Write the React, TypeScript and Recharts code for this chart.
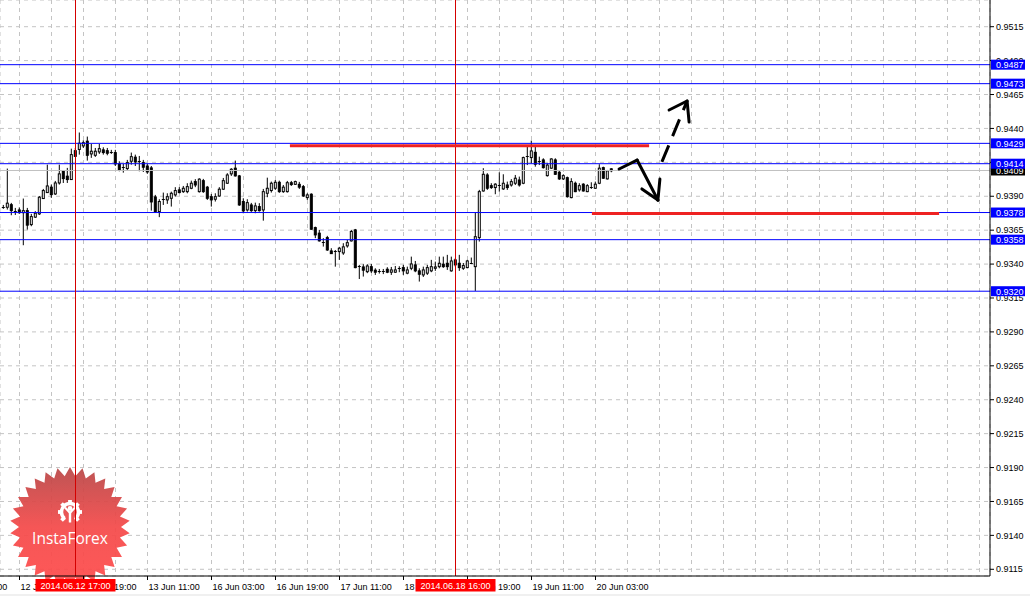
import React from 'react';
import { createPortal } from 'react-dom';
import { ComposedChart, Bar, XAxis, YAxis, CartesianGrid, ReferenceLine, Customized } from 'recharts';

// ---- data (USD/CHF H1, 11-20 Jun 2014) ----
const FIRST_BAR = -4; // bar index of the first candle (bar 0 = 12 Jun 03:00)

const opens = [
  0.93821, 0.93819, 0.93838, 0.93785, 0.93799, 0.93779, 0.93794, 0.93691, 0.93746, 0.93770,
  0.93883, 0.93927, 0.93967, 0.93917, 0.93998, 0.94084, 0.94048, 0.94023, 0.94236, 0.94245,
  0.94271, 0.94306, 0.94212, 0.94202, 0.94227, 0.94242, 0.94236, 0.94224, 0.94222, 0.94138,
  0.94116, 0.94104, 0.94158, 0.94188, 0.94163, 0.94148, 0.94123, 0.94109, 0.93895, 0.93787,
  0.93875, 0.93873, 0.93885, 0.93910, 0.93947, 0.93934, 0.93934, 0.93959, 0.94008, 0.93934,
  0.94015, 0.93967, 0.93897, 0.93878, 0.93902, 0.93952, 0.93996, 0.94065, 0.94107, 0.94050,
  0.93861, 0.93799, 0.93836, 0.93794, 0.93824, 0.93799, 0.93922, 0.93942, 0.93959, 0.94003,
  0.93934, 0.93934, 0.94000, 0.93988, 0.93988, 0.93971, 0.93890, 0.93915, 0.93669, 0.93628,
  0.93566, 0.93595, 0.93497, 0.93489, 0.93492, 0.93482, 0.93534, 0.93571, 0.93652, 0.93379,
  0.93379, 0.93344, 0.93381, 0.93355, 0.93348, 0.93346, 0.93362, 0.93340, 0.93340, 0.93367,
  0.93374, 0.93333, 0.93369, 0.93394, 0.93350, 0.93320, 0.93333, 0.93350, 0.93369, 0.93381,
  0.93399, 0.93406, 0.93350, 0.93431, 0.93406, 0.93369, 0.93374, 0.93408, 0.93381, 0.93595,
  0.93939, 0.94057, 0.93978, 0.93964, 0.93981, 0.93954, 0.93983, 0.93983, 0.93996, 0.94020,
  0.93996, 0.94190, 0.94185, 0.94224, 0.94158, 0.94168, 0.94052, 0.94107, 0.94168, 0.94077,
  0.94028, 0.94037, 0.93890, 0.93996, 0.93947, 0.93989, 0.93934, 0.93966, 0.93959, 0.93996,
  0.94111, 0.94028, 0.94102,
];
const highs = [
  0.93836, 0.94104, 0.93851, 0.93814, 0.93818, 0.93883, 0.93814, 0.93770, 0.93790, 0.93902,
  0.93954, 0.94133, 0.93986, 0.94013, 0.94133, 0.94089, 0.94109, 0.94251, 0.94256, 0.94370,
  0.94312, 0.94340, 0.94286, 0.94256, 0.94286, 0.94261, 0.94256, 0.94242, 0.94242, 0.94158,
  0.94138, 0.94168, 0.94222, 0.94207, 0.94197, 0.94168, 0.94138, 0.94123, 0.93910, 0.93878,
  0.93927, 0.93922, 0.93934, 0.93967, 0.93967, 0.93976, 0.93996, 0.94015, 0.94026, 0.94033,
  0.94028, 0.93976, 0.93917, 0.93922, 0.93967, 0.94035, 0.94070, 0.94107, 0.94163, 0.94057,
  0.93885, 0.93878, 0.93851, 0.93853, 0.93849, 0.93954, 0.94037, 0.94008, 0.94020, 0.94015,
  0.93983, 0.94013, 0.94013, 0.94015, 0.94006, 0.93983, 0.93922, 0.93922, 0.93676, 0.93652,
  0.93591, 0.93608, 0.93517, 0.93504, 0.93527, 0.93554, 0.93578, 0.93652, 0.93659, 0.93394,
  0.93399, 0.93399, 0.93401, 0.93369, 0.93364, 0.93364, 0.93377, 0.93379, 0.93386, 0.93384,
  0.93394, 0.93381, 0.93455, 0.93423, 0.93369, 0.93381, 0.93394, 0.93431, 0.93418, 0.93455,
  0.93455, 0.93468, 0.93455, 0.93443, 0.93468, 0.93408, 0.93431, 0.93448, 0.93782, 0.93947,
  0.94107, 0.94070, 0.93996, 0.93996, 0.94077, 0.94062, 0.94008, 0.94026, 0.94057, 0.94045,
  0.94192, 0.94266, 0.94310, 0.94278, 0.94192, 0.94180, 0.94143, 0.94180, 0.94180, 0.94087,
  0.94062, 0.94045, 0.94033, 0.94008, 0.93996, 0.93996, 0.93989, 0.94003, 0.94008, 0.94136,
  0.94118, 0.94094, 0.94107,
];
const lows = [
  0.93807, 0.93802, 0.93760, 0.93762, 0.93770, 0.93539, 0.93654, 0.93679, 0.93740, 0.93762,
  0.93880, 0.93925, 0.93888, 0.93910, 0.93986, 0.93998, 0.93998, 0.94020, 0.94190, 0.94207,
  0.94256, 0.94163, 0.94183, 0.94190, 0.94212, 0.94207, 0.94202, 0.94212, 0.94123, 0.94084,
  0.94074, 0.94094, 0.94133, 0.94123, 0.94084, 0.94079, 0.94065, 0.93794, 0.93777, 0.93746,
  0.93836, 0.93844, 0.93824, 0.93897, 0.93922, 0.93925, 0.93922, 0.93952, 0.93967, 0.93927,
  0.93925, 0.93873, 0.93824, 0.93861, 0.93897, 0.93947, 0.93991, 0.94050, 0.94045, 0.93829,
  0.93775, 0.93787, 0.93785, 0.93775, 0.93787, 0.93720, 0.93893, 0.93927, 0.93947, 0.93925,
  0.93925, 0.93927, 0.93976, 0.93983, 0.93954, 0.93895, 0.93873, 0.93652, 0.93591, 0.93566,
  0.93529, 0.93497, 0.93475, 0.93381, 0.93431, 0.93468, 0.93521, 0.93566, 0.93369, 0.93290,
  0.93308, 0.93333, 0.93335, 0.93320, 0.93330, 0.93326, 0.93333, 0.93320, 0.93335, 0.93340,
  0.93320, 0.93325, 0.93355, 0.93340, 0.93271, 0.93305, 0.93320, 0.93340, 0.93350, 0.93369,
  0.93372, 0.93357, 0.93344, 0.93381, 0.93350, 0.93357, 0.93369, 0.93399, 0.93202, 0.93566,
  0.93934, 0.93947, 0.93954, 0.93915, 0.93934, 0.93947, 0.93947, 0.93971, 0.93983, 0.93971,
  0.93989, 0.94130, 0.94143, 0.94118, 0.94130, 0.94104, 0.94045, 0.94102, 0.94057, 0.94020,
  0.94020, 0.93890, 0.93885, 0.93930, 0.93934, 0.93934, 0.93930, 0.93954, 0.93954, 0.93989,
  0.94028, 0.94023, 0.94077,
];
const closes = [
  0.93824, 0.93849, 0.93794, 0.93792, 0.93779, 0.93794, 0.93687, 0.93750, 0.93775, 0.93893,
  0.93942, 0.93976, 0.93912, 0.93998, 0.94065, 0.94030, 0.94023, 0.94207, 0.94194, 0.94291,
  0.94295, 0.94202, 0.94232, 0.94232, 0.94251, 0.94222, 0.94217, 0.94227, 0.94138, 0.94094,
  0.94112, 0.94148, 0.94192, 0.94153, 0.94158, 0.94114, 0.94079, 0.93858, 0.93787, 0.93861,
  0.93880, 0.93897, 0.93922, 0.93942, 0.93927, 0.93959, 0.93971, 0.93996, 0.93983, 0.94026,
  0.93934, 0.93885, 0.93873, 0.93897, 0.93952, 0.94015, 0.94057, 0.94099, 0.94050, 0.93836,
  0.93792, 0.93853, 0.93794, 0.93829, 0.93794, 0.93934, 0.93959, 0.93996, 0.94003, 0.93934,
  0.93967, 0.94000, 0.93986, 0.94008, 0.93967, 0.93902, 0.93910, 0.93657, 0.93615, 0.93571,
  0.93561, 0.93504, 0.93477, 0.93494, 0.93517, 0.93527, 0.93558, 0.93640, 0.93374, 0.93383,
  0.93355, 0.93386, 0.93350, 0.93340, 0.93352, 0.93342, 0.93340, 0.93357, 0.93357, 0.93371,
  0.93350, 0.93357, 0.93401, 0.93350, 0.93325, 0.93357, 0.93374, 0.93381, 0.93379, 0.93406,
  0.93381, 0.93381, 0.93423, 0.93394, 0.93374, 0.93389, 0.93423, 0.93404, 0.93602, 0.93934,
  0.94062, 0.93959, 0.93964, 0.93989, 0.93976, 0.93996, 0.93964, 0.94008, 0.94033, 0.93983,
  0.94185, 0.94194, 0.94234, 0.94136, 0.94161, 0.94111, 0.94130, 0.94175, 0.94062, 0.94028,
  0.94052, 0.93897, 0.94008, 0.93934, 0.93978, 0.93939, 0.93978, 0.93962, 0.93989, 0.94107,
  0.94033, 0.94087, 0.94088,
];

const priceTicks = [
  0.9115, 0.914, 0.9165, 0.919, 0.9215, 0.924, 0.9265, 0.929, 0.9315,
  0.934, 0.9365, 0.939, 0.9415, 0.944, 0.9465, 0.949, 0.9515,
];
const timeGridBars = [
  -16, -8, 0, 8, 16, 24, 32, 40, 48, 56, 64, 72, 80, 88, 96, 104, 112, 120, 128, 136,
  144, 152, 160, 168, 176, 184, 192, 200, 208, 216, 224, 232, 240,
];
const timeLabelBars = [-16, 0, 16, 32, 48, 64, 80, 96, 112, 128, 144];
const timeLabels = [
  '11 Jun 11:00', '12 Jun 03:00', '12 Jun 19:00', '13 Jun 11:00', '16 Jun 03:00',
  '16 Jun 19:00', '17 Jun 11:00', '18 Jun 03:00', '18 Jun 19:00', '19 Jun 11:00', '20 Jun 03:00',
];

const levelPrices = [0.9487, 0.9473, 0.9429, 0.9414, 0.9378, 0.9358, 0.932];
const bidPrice = 0.9409;
const crossBars = [14, 109];
const crossLabels = ['2014.06.12 17:00', '2014.06.18 16:00'];

// red zone lines: fromBar, toBar, price
const zoneFrom = [67.6, 143.1];
const zoneTo = [157.4, 229.9];
const zonePrice = [0.94272, 0.93773];

// hand-drawn forecast arrows, as [bar, price] points
const arrowDown = [[149.9, 0.94101], [154.4, 0.94167], [159.6, 0.93872]];
const arrowDownHead = [[155.6, 0.93954], [159.6, 0.93872], [160.1, 0.94027]];
const arrowUp = [[160.6, 0.94153], [166.9, 0.94602]];
const arrowUpHead = [[162.4, 0.94536], [166.9, 0.94602], [167.4, 0.94447]];

const X_DOMAIN = [-4.875, 242.625];
const Y_DOMAIN = [0.911005, 0.953468];

const rows = opens.map((o, k) => ({
  i: FIRST_BAR + k,
  o,
  h: highs[k],
  l: lows[k],
  c: closes[k],
}));

const FONT = "'Liberation Sans', Arial, sans-serif";
const BLUE = '#0000ff';
const RED = '#ee2222';

const OverlayCtx = React.createContext<any>(null);

function Candle(props: any) {
  const { x, y, width, height, payload } = props;
  if (!payload || x == null || y == null) return null;
  const top = Math.min(y, y + height);
  const bottom = Math.max(y, y + height);
  const { o, h, l, c } = payload;
  const k = (bottom - top) / (h - l);
  const cx = x + width / 2;
  const yo = top + (h - o) * k;
  const yc = top + (h - c) * k;
  const bTop = Math.min(yo, yc);
  const bBot = Math.max(yo, yc);
  const up = c >= o;
  return (
    <g>
      <line x1={cx} x2={cx} y1={top} y2={bottom} stroke="#000" strokeWidth={1} />
      {bBot - bTop < 1.2 ? (
        <line x1={cx - 1.5} x2={cx + 1.5} y1={Math.round(bTop) + 0.5} y2={Math.round(bTop) + 0.5} stroke="#000" strokeWidth={1} />
      ) : (
        <rect x={cx - 1} y={bTop} width={2} height={bBot - bTop} fill={up ? '#fff' : '#000'} stroke="#000" strokeWidth={1} />
      )}
    </g>
  );
}

function TimeTick(props: any) {
  const { x, y, payload } = props;
  const k = timeLabelBars.indexOf(payload.value);
  if (k < 0) return <g />;
  return (
    <g>
      <line x1={x} x2={x} y1={y} y2={y + 4} stroke="#000" strokeWidth={1} />
      <text x={x + 1} y={y + 13.5} fontSize={9} fontFamily={FONT} fill="#000">
        {timeLabels[k]}
      </text>
    </g>
  );
}

function PriceTag(props: any) {
  const host = React.useContext(OverlayCtx);
  const { viewBox, text, bg } = props;
  if (!viewBox || !host) return null;
  const bx = viewBox.x + viewBox.width + 1;
  const y = viewBox.y;
  return createPortal(
    <g>
      <rect x={bx} y={y - 5} width={34} height={10} fill={bg} />
      <text x={bx + 5} y={y + 3.3} fontSize={9} fontFamily={FONT} fill="#fff">
        {text}
      </text>
    </g>,
    host
  );
}

function CrossTag(props: any) {
  const host = React.useContext(OverlayCtx);
  const { viewBox, text } = props;
  if (!viewBox || !host) return null;
  const x = viewBox.x;
  const yb = viewBox.y + viewBox.height;
  return createPortal(
    <g>
      <rect x={x - 40} y={yb + 3} width={80} height={12.5} fill="#ff0000" />
      <text x={x} y={yb + 13} textAnchor="middle" fontSize={9} fontFamily={FONT} fill="#fff">
        {text}
      </text>
    </g>,
    host
  );
}

function Logo() {
  const cxL = 70;
  const cyL = 527;
  const n = 30;
  const pts: string[] = [];
  for (let k = 0; k < n * 2; k++) {
    const a = -Math.PI / 2 + (k * Math.PI) / n;
    const r = k % 2 === 0 ? 60 : 51;
    pts.push(`${(cxL + r * Math.cos(a)).toFixed(1)},${(cyL + r * Math.sin(a)).toFixed(1)}`);
  }
  const teeth = [];
  for (let k = 0; k < 8; k++) {
    if (k === 4) continue;
    teeth.push(
      <rect key={k} x={-1.9} y={-12} width={3.8} height={4.5} fill="#fff" transform={`translate(70 512) rotate(${k * 45})`} />
    );
  }
  return (
    <g opacity={0.93}>
      <defs>
        <linearGradient id="ifxGrad" x1="0" y1="0" x2="0" y2="1">
          <stop offset="0" stopColor="#b94848" />
          <stop offset="0.5" stopColor="#f54a4a" />
          <stop offset="1" stopColor="#ff4c4c" />
        </linearGradient>
      </defs>
      <polygon points={pts.join(' ')} fill="url(#ifxGrad)" />
      <path d="M 64.5 518.5 A 8.5 8.5 0 1 1 75.5 518.5" fill="none" stroke="#fff" strokeWidth={3.5} />
      {teeth}
      <circle cx={70} cy={508.5} r={2.4} fill="#fff" />
      <path d="M 65 507.5 L 70 513 L 75 507.5" fill="none" stroke="#fff" strokeWidth={2} />
      <rect x={68.8} y={512} width={2.4} height={10.5} fill="#fff" />
      <text x={70} y={544} textAnchor="middle" fill="#fff" fontSize={15.5} fontFamily="'Open Sans', sans-serif">
        InstaForex
      </text>
    </g>
  );
}

function segs(points: number[][]) {
  const out: any[] = [];
  for (let k = 0; k < points.length - 1; k++) {
    out.push([
      { x: points[k][0], y: points[k][1] },
      { x: points[k + 1][0], y: points[k + 1][1] },
    ]);
  }
  return out;
}

export default function App() {
  const [overlay, setOverlay] = React.useState<any>(null);
  return (
    <div style={{ position: 'absolute', left: 0, top: 0, width: 1030, height: 596, background: '#fff', overflow: 'hidden' }}>
      <OverlayCtx.Provider value={overlay}>
        <ComposedChart width={1030} height={596} data={rows} margin={{ top: 0, right: 0, bottom: 0, left: 0 }}>
          <CartesianGrid stroke="#c4c4c4" strokeDasharray="4 4" />
          <Customized component={Logo} />
          <XAxis
            type="number"
            dataKey="i"
            domain={X_DOMAIN}
            allowDataOverflow
            ticks={timeGridBars}
            interval={0}
            tick={<TimeTick />}
            tickLine={false}
            tickSize={0}
            tickMargin={0}
            axisLine={{ stroke: '#000' }}
            height={20}
          />
          <YAxis
            orientation="right"
            type="number"
            domain={Y_DOMAIN}
            allowDataOverflow
            ticks={priceTicks}
            interval={0}
            width={40}
            tickSize={4}
            tickMargin={2}
            tickFormatter={(v: number) => v.toFixed(4)}
            tick={{ fontSize: 9, fill: '#000', fontFamily: FONT }}
            axisLine={{ stroke: '#000' }}
            tickLine={{ stroke: '#000' }}
          />
          <ReferenceLine y={bidPrice} stroke="#c0c0c0" strokeWidth={1} label={<PriceTag text={bidPrice.toFixed(4)} bg="#000" />} />
          {levelPrices.map((p) => (
            <ReferenceLine key={'lv' + p} y={p} stroke={BLUE} strokeWidth={1} label={<PriceTag text={p.toFixed(4)} bg={BLUE} />} />
          ))}
          {crossBars.map((b, k) => (
            <ReferenceLine key={'cx' + b} x={b} stroke="#d40000" strokeWidth={1} label={<CrossTag text={crossLabels[k]} />} />
          ))}
          <Bar dataKey={(d: any) => [d.l, d.h]} barSize={4} shape={(p: any) => <Candle {...p} />} isAnimationActive={false} />
          {zonePrice.map((p, k) => (
            <ReferenceLine
              key={'zn' + k}
              segment={[{ x: zoneFrom[k], y: p }, { x: zoneTo[k], y: p }]}
              stroke={RED}
              strokeWidth={3}
            />
          ))}
          {[...segs(arrowDown), ...segs(arrowDownHead), ...segs(arrowUpHead)].map((s, k) => (
            <ReferenceLine key={'ar' + k} segment={s} stroke="#000" strokeWidth={3} strokeLinecap="round" />
          ))}
          {segs(arrowUp).map((s, k) => (
            <ReferenceLine key={'au' + k} segment={s} stroke="#000" strokeWidth={3} strokeDasharray="18 10" />
          ))}
        </ComposedChart>
      </OverlayCtx.Provider>
      <svg
        ref={setOverlay}
        width={1030}
        height={596}
        style={{ position: 'absolute', left: 0, top: 0, pointerEvents: 'none' }}
      />
      <div style={{ position: 'absolute', left: 0, top: 594, width: 1030, height: 2, background: '#f0f0f0' }} />
    </div>
  );
}
